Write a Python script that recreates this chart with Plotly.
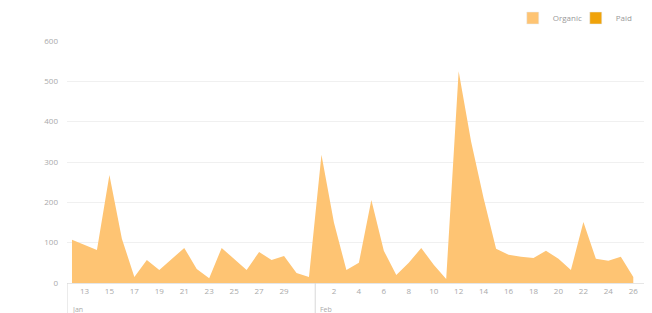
import plotly.graph_objects as go

# Data (daily sessions by channel)
group_labels = ["Jan", "Feb"]
group1_days = list(range(12, 32))   # 20 days
group2_days = list(range(1, 27))    # 26 days
day_labels = [str(d) for d in group1_days] + [str(d) for d in group2_days]

organic = [107, 95, 82, 268, 110, 15, 57, 32, 60, 87,
           35, 12, 87, 60, 32, 77, 57, 67, 25, 15,
           318, 150, 32, 50, 206, 80, 20, 50, 87, 45,
           10, 525, 350, 210, 85, 70, 65, 62, 80, 60,
           32, 151, 60, 55, 65, 15]
paid = [0] * len(organic)

organic_color = "#FEC473"
paid_color = "#F0A30A"

x_idx = list(range(len(organic)))
tick_idx = [i for i in x_idx if i % 2 == 1 and i != 19]
tick_txt = [day_labels[i] for i in tick_idx]

fig = go.Figure()
fig.add_trace(go.Scatter(
    x=x_idx, y=paid, name="Paid", mode="lines", stackgroup="one", showlegend=False,
    line=dict(width=0, color=paid_color), fillcolor=paid_color, hoverinfo="skip"))
fig.add_trace(go.Scatter(
    x=x_idx, y=organic, name="Organic", mode="lines", stackgroup="one", showlegend=False,
    line=dict(width=0, color=organic_color), fillcolor=organic_color))
# legend entries (square swatches)
fig.add_trace(go.Bar(x=[None], y=[None], name="Organic", marker_color=organic_color))
fig.add_trace(go.Bar(x=[None], y=[None], name="Paid", marker_color=paid_color))

boundary = len(group1_days) - 0.5
for xb in [-0.4, boundary]:
    fig.add_shape(type="line", xref="x", yref="paper", x0=xb, x1=xb,
                  y0=0, y1=-0.124, line=dict(color="#d8d8d8", width=1))
for xb, lab in [(-0.4, group_labels[0]), (boundary, group_labels[1])]:
    fig.add_annotation(x=xb, xref="x", y=-0.083, yref="paper", text=lab,
                       showarrow=False, xanchor="left", yanchor="top", xshift=3,
                       font=dict(size=7, color="#aaaaaa"))

fig.update_layout(
    width=644, height=305,
    margin=dict(l=59, r=0, t=33, b=30, autoexpand=False),
    paper_bgcolor="white", plot_bgcolor="white",
    font=dict(family="Open Sans", size=8, color="#aaaaaa"),
    showlegend=True,
    legend=dict(orientation="h", x=0.762, xanchor="left", y=1.095, yanchor="middle",
                traceorder="normal", font=dict(size=8, color="#999999"), itemwidth=30,
                entrywidth=18, entrywidthmode="pixels"),
    xaxis=dict(range=[-0.4, 46.5], tickmode="array", tickvals=tick_idx, ticktext=tick_txt,
               showgrid=False, zeroline=False, showline=True, linecolor="#e6e6e6",
               ticks="", automargin=False, tickfont=dict(size=8, color="#aaaaaa")),
    yaxis=dict(range=[0, 600], dtick=100, showgrid=True, gridcolor="#f0f0f0",
               zeroline=False, showline=False, ticklabelstandoff=8, automargin=False,
               tickfont=dict(size=8, color="#aaaaaa")),
)

fig.write_html("out.html")
